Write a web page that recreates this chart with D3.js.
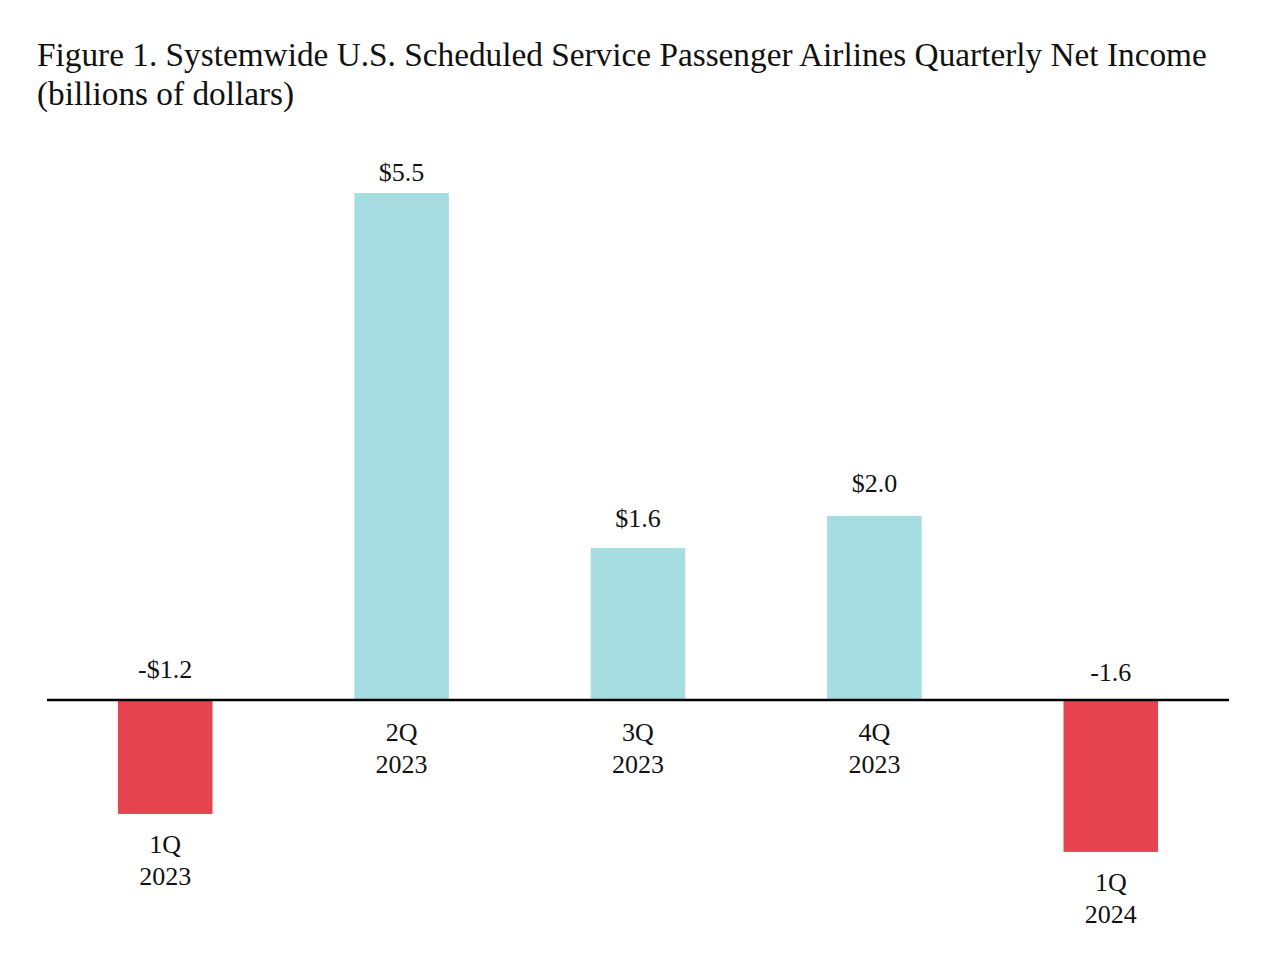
<!DOCTYPE html>
<html>
<head>
<meta charset="utf-8">
<script src="https://cdn.jsdelivr.net/npm/d3@7/dist/d3.min.js"></script>
<style>
html,body{margin:0;padding:0;background:#fff;}
svg{display:block;}
text{font-family:"Liberation Serif","Times New Roman",serif;fill:#111;}
</style>
</head>
<body>
<svg id="chart" width="1268" height="960"></svg>
<script>
const quarters = ["1Q", "2Q", "3Q", "4Q", "1Q"];
const years = ["2023", "2023", "2023", "2023", "2024"];
const netIncome = [-1.2, 5.34, 1.6, 1.94, -1.6];
const valueLabels = ["-$1.2", "$5.5", "$1.6", "$2.0", "-1.6"];
const titleLines = ["Figure 1. Systemwide U.S. Scheduled Service Passenger Airlines Quarterly Net Income", "(billions of dollars)"];

const svg = d3.select("#chart");
const ids = quarters.map((q, i) => i);

const x = d3.scaleBand().domain(ids).range([47, 1229]).paddingInner(0.6).paddingOuter(0.3);
const y = d3.scaleLinear().domain([0, 5.34]).range([700, 193]);

// title
svg.append("g").selectAll("text").data(titleLines).join("text")
  .attr("x", 37).attr("y", (d, i) => 66 + i * 39)
  .style("font-size", "33.3px")
  .text(d => d);

// bars
svg.append("g").selectAll("rect").data(netIncome).join("rect")
  .attr("x", (d, i) => x(i))
  .attr("width", x.bandwidth())
  .attr("y", d => Math.min(y(d), y(0)))
  .attr("height", d => Math.abs(y(d) - y(0)))
  .attr("fill", d => d >= 0 ? "#a6dde0" : "#e5444e");

// zero line
svg.append("line").attr("x1", 47).attr("x2", 1229).attr("y1", y(0)).attr("y2", y(0))
  .attr("stroke", "#000").attr("stroke-width", 2.5);

// value labels (gap above bar differs slightly per bar in the original)
const labelGap = [22, 12, 21, 24, 19];
svg.append("g").selectAll("text").data(netIncome).join("text")
  .attr("x", (d, i) => x(i) + x.bandwidth() / 2)
  .attr("y", (d, i) => (d >= 0 ? y(d) : y(0)) - labelGap[i])
  .attr("text-anchor", "middle")
  .style("font-size", "26px")
  .text((d, i) => valueLabels[i]);

// category labels
const cat = svg.append("g").selectAll("text").data(netIncome).join("text")
  .attr("x", (d, i) => x(i) + x.bandwidth() / 2)
  .attr("y", d => d >= 0 ? y(0) + 41 : y(d) + 39)
  .attr("text-anchor", "middle")
  .style("font-size", "26px");
cat.append("tspan").attr("x", (d, i) => x(i) + x.bandwidth() / 2).text((d, i) => quarters[i]);
cat.append("tspan").attr("x", (d, i) => x(i) + x.bandwidth() / 2).attr("dy", 32).text((d, i) => years[i]);
</script>
</body>
</html>
